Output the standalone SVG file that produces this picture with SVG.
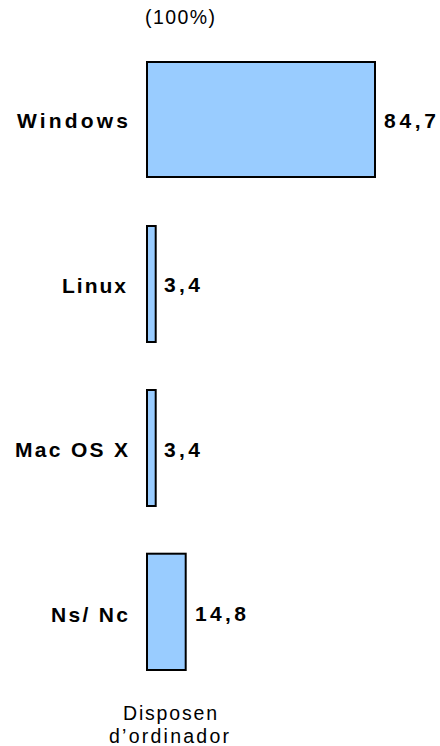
<svg xmlns="http://www.w3.org/2000/svg" width="440" height="746" viewBox="0 0 440 746">
<style>
.bar{fill:#99ccff;stroke:#000;stroke-width:2}
.lbl{font-family:"Liberation Sans",Arial,sans-serif;font-weight:bold;font-size:21px;fill:#000}
.reg{font-family:"Liberation Sans",Arial,sans-serif;font-size:19.5px;fill:#000}
</style>
<rect width="440" height="746" fill="#fff"/>
<text class="reg" x="145" y="24" textLength="70" lengthAdjust="spacing">(100%)</text>
<g id="windows">
<rect class="bar" x="147" y="62" width="228" height="115"/>
<text class="lbl" x="17" y="128" textLength="111" lengthAdjust="spacing">Windows</text>
<text class="lbl" x="384" y="128" textLength="52" lengthAdjust="spacing">84,7</text>
</g>
<g id="linux">
<rect class="bar" x="147" y="226" width="8.7" height="116"/>
<text class="lbl" x="62" y="292.5" textLength="64" lengthAdjust="spacing">Linux</text>
<text class="lbl" x="164" y="292" textLength="36" lengthAdjust="spacing">3,4</text>
</g>
<g id="macosx">
<rect class="bar" x="147" y="390" width="8.7" height="116"/>
<text class="lbl" x="15" y="457" textLength="113" lengthAdjust="spacing">Mac OS X</text>
<text class="lbl" x="164" y="456.5" textLength="36" lengthAdjust="spacing">3,4</text>
</g>
<g id="nsnc">
<rect class="bar" x="147" y="553.7" width="38.7" height="116.3"/>
<text class="lbl" x="51" y="621.5" textLength="77" lengthAdjust="spacing">Ns/ Nc</text>
<text class="lbl" x="195" y="620.5" textLength="51" lengthAdjust="spacing">14,8</text>
</g>
<g id="connectors"/>
<g id="axis-title">
<text class="reg" x="123" y="720" textLength="94" lengthAdjust="spacing">Disposen</text>
<text class="reg" x="109" y="743" textLength="120" lengthAdjust="spacing">d’ordinador</text>
</g>
</svg>
